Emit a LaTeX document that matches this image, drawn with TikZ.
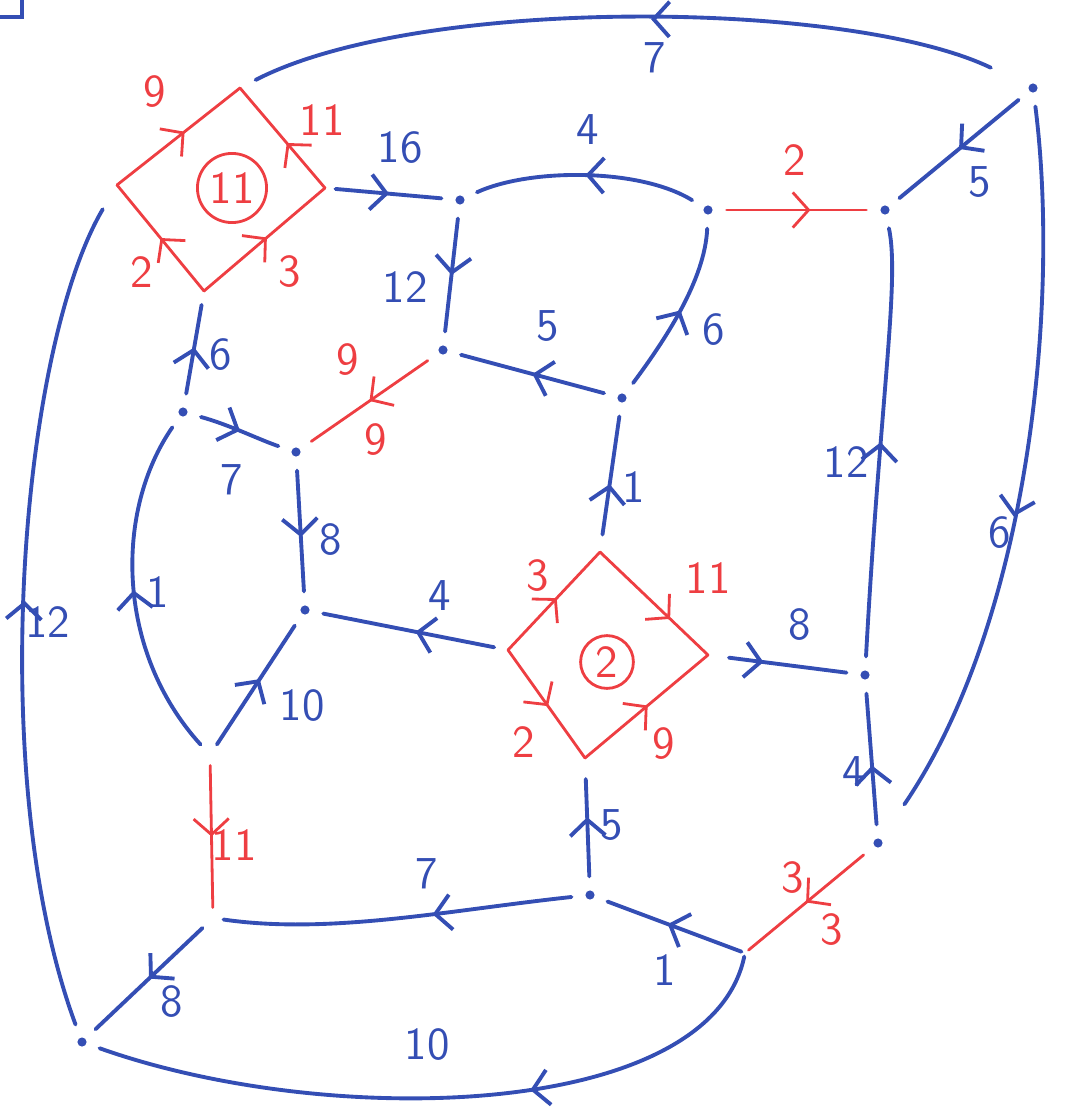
\documentclass[tikz,border=0pt]{standalone}
\usetikzlibrary{arrows.meta,decorations.markings}

\definecolor{penblue}{RGB}{52,78,180}
\definecolor{penred}{RGB}{238,62,66}

\begin{document}
\begin{tikzpicture}[x=0.01cm, y=-0.01cm,
    blueedge/.style={draw=penblue, line width=1.1pt, line cap=round},
    rededge/.style={draw=penred, line width=0.8pt, line cap=round},
    dot/.style={circle, fill=penblue, inner sep=0pt, minimum size=2.6pt, outer sep=4pt},
    jn/.style={inner sep=0pt, minimum size=0pt, outer sep=3pt},
    midarrow/.style={postaction={decorate}, decoration={markings,
        mark=at position #1 with {\arrow{Straight Barb[length=4.5pt,width=10pt]}}}},
    midarrow/.default=0.5,
    bluelab/.style={text=penblue, font=\sffamily\fontsize{13}{15}\selectfont},
    redlab/.style={text=penred, font=\sffamily\fontsize{13}{15}\selectfont}]
    \useasboundingbox (0,0) rectangle (1065,1109);

    % corner fragment
    \draw[blueedge] (0,17) -- (22,17) -- (22,0);

    % Dots
    \node[dot] (A) at (460,200) {};
    \node[dot] (B) at (708,210) {};
    \node[dot] (C) at (885,210) {};
    \node[dot] (D) at (1033,88) {};
    \node[dot] (E) at (443,350) {};
    \node[dot] (F) at (622,398) {};
    \node[dot] (G) at (183,412) {};
    \node[dot] (H) at (296,452) {};
    \node[dot] (I) at (305,610) {};
    \node[dot] (J) at (865,675) {};
    \node[dot] (K) at (878,843) {};
    \node[dot] (L) at (590,895) {};
    \node[dot] (M) at (82,1042) {};

    % Junctions with no dot
    \node[jn] (P) at (210,755) {};
    \node[jn] (Q) at (213,918) {};
    \node[jn, outer sep=1pt] (R) at (745,953) {};

    % Red square (11)
    \coordinate (sqaT) at (240,88);
    \coordinate (sqaR) at (325,188);
    \coordinate (sqaB) at (204,291);
    \coordinate (sqaL) at (117,185);
    \draw[rededge, midarrow=0.55] (sqaL) -- (sqaT);
    \draw[rededge, midarrow=0.45] (sqaR) -- (sqaT);
    \draw[rededge, midarrow=0.5] (sqaB) -- (sqaL);
    \draw[rededge, midarrow=0.52] (sqaB) -- (sqaR);
    \node[draw=penred, line width=0.8pt, circle, inner sep=1.5pt, redlab] (ca) at (232,188) {11};
    \node[redlab] (la9) at (155,92) {9};
    \node[redlab] (la11) at (322,120) {11};
    \node[redlab] (la2) at (142,272) {2};
    \node[redlab] (la3) at (290,272) {3};

    % Red square (2)
    \coordinate (sqbT) at (600,552);
    \coordinate (sqbR) at (708,655);
    \coordinate (sqbB) at (585,758);
    \coordinate (sqbL) at (508,650);
    \draw[rededge, midarrow=0.53] (sqbL) -- (sqbT);
    \draw[rededge, midarrow=0.65] (sqbT) -- (sqbR);
    \draw[rededge, midarrow=0.52] (sqbL) -- (sqbB);
    \draw[rededge, midarrow=0.51] (sqbB) -- (sqbR);
    \node[draw=penred, line width=0.8pt, circle, inner sep=1.5pt, redlab] (cb) at (607,662) {2};
    \node[redlab] (lb3) at (538,576) {3};
    \node[redlab] (lb11) at (708,578) {11};
    \node[redlab] (lb2) at (524,742) {2};
    \node[redlab] (lb9) at (664,744) {9};

    % Blue edges, top part
    \draw[blueedge, midarrow=0.55, shorten <=3pt] (sqaR) -- (A);
    \node[bluelab] (l16) at (400,148) {16};
    \draw[blueedge, midarrow=0.5] (B) .. controls (640,168) and (530,168) .. (A);
    \node[bluelab] (l4a) at (588,130) {4};
    \draw[rededge, midarrow=0.6] (B) -- (C);
    \node[redlab] (l2) at (795,160) {2};
    \draw[blueedge, midarrow=0.5] (D) -- (C);
    \node[bluelab] (l5a) at (980,182) {5};
    \draw[blueedge, midarrow=0.47, shorten <=8pt, shorten >=5pt] (D) .. controls (850,0) and (420,-5) .. (sqaT);
    \node[bluelab] (l7a) at (655,58) {7};
    \draw[blueedge, midarrow=0.55, shorten >=8pt] (D) .. controls (1060,300) and (1030,620) .. (K);
    \node[bluelab] (l6a) at (1000,533) {6};
    \draw[blueedge, midarrow=0.5] (J) .. controls (880,400) and (900,280) .. (C);
    \node[bluelab] (l12a) at (846,462) {12};
    \draw[blueedge, midarrow=0.5] (A) -- (E);
    \node[bluelab] (l12b) at (405,287) {12};
    \draw[blueedge, midarrow=0.5] (F) .. controls (665,340) and (705,280) .. (B);
    \node[bluelab] (l6b) at (714,330) {6};
    \draw[blueedge, midarrow=0.5] (F) -- (E);
    \node[bluelab] (l5b) at (548,326) {5};
    \draw[rededge, midarrow=0.5] (E) -- (H);
    \node[redlab] (l9a) at (348,360) {9};
    \node[redlab] (l9b) at (376,440) {9};
    \draw[blueedge, midarrow=0.45, shorten >=4pt] (G) -- (sqaB);
    \node[bluelab] (l6c) at (221,355) {6};
    \draw[blueedge, midarrow=0.5] (G) .. controls (230,425) and (260,440) .. (H);
    \node[bluelab] (l7b) at (232,480) {7};

    % Blue edges, middle part
    \draw[blueedge, midarrow=0.55] (H) -- (I);
    \node[bluelab] (l8a) at (331,540) {8};
    \draw[blueedge, midarrow=0.5, shorten <=4pt] (sqbL) -- (I);
    \node[bluelab] (l4b) at (440,596) {4};
    \draw[blueedge, midarrow=0.5, shorten <=5pt] (sqbT) -- (F);
    \node[bluelab] (l1a) at (634,487) {1};
    \draw[blueedge, midarrow=0.5] (P) .. controls (115,650) and (115,510) .. (G);
    \node[bluelab] (l1b) at (158,592) {1};
    \draw[blueedge, midarrow=0.55] (P) -- (I);
    \node[bluelab] (l10a) at (302,706) {10};
    \draw[rededge, midarrow=0.5] (P) -- (Q);
    \node[redlab] (l11) at (234,845) {11};
    \draw[blueedge, midarrow=0.5, shorten >=8pt] (M) .. controls (-15,780) and (20,350) .. (sqaL);
    \node[bluelab] (l12c) at (48,622) {12};
    \draw[blueedge, midarrow=0.4, shorten <=6pt] (sqbR) -- (J);
    \node[bluelab] (l8b) at (800,625) {8};

    % Blue edges, bottom part
    \draw[blueedge, midarrow=0.5] (Q) -- (M);
    \node[bluelab] (l8c) at (172,1002) {8};
    \draw[blueedge, midarrow=0.4] (L) .. controls (450,910) and (330,935) .. (Q);
    \node[bluelab] (l7c) at (427,874) {7};
    \draw[blueedge, midarrow=0.5, shorten >=6pt] (L) -- (sqbB);
    \node[bluelab] (l5c) at (612,825) {5};
    \draw[blueedge, midarrow=0.55] (R) -- (L);
    \node[bluelab] (l1c) at (665,970) {1};
    \draw[blueedge, midarrow=0.38] (R) .. controls (710,1120) and (330,1130) .. (M);
    \node[bluelab] (l10b) at (427,1045) {10};
    \draw[rededge, midarrow=0.5] (K) -- (R);
    \node[redlab] (l3a) at (793,878) {3};
    \node[redlab] (l3b) at (832,930) {3};
    \draw[blueedge, midarrow=0.45] (K) -- (J);
    \node[bluelab] (l4c) at (854,772) {4};
\end{tikzpicture}
\end{document}
